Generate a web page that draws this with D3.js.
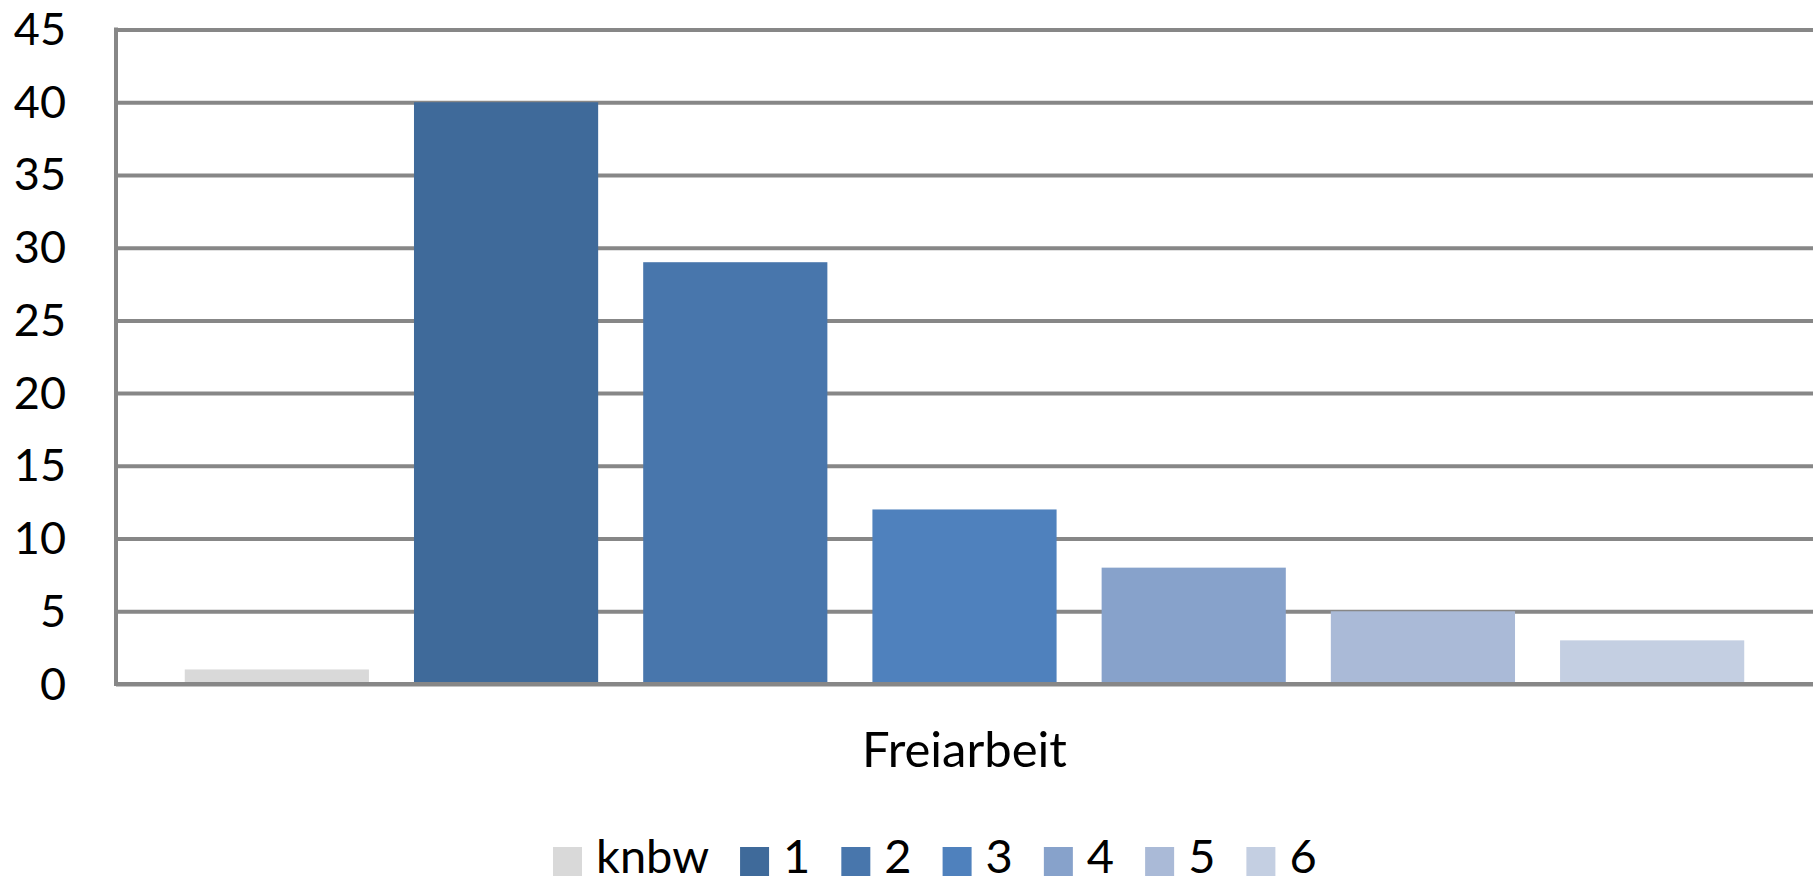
<!DOCTYPE html>
<html>
<head>
<meta charset="utf-8">
<script src="https://cdn.jsdelivr.net/npm/d3@7"></script>
<style>
  html, body { margin: 0; padding: 0; background: #ffffff; }
  svg { display: block; }
  text { font-family: Lato, "Open Sans", sans-serif; fill: #000; }
</style>
</head>
<body>
<svg id="chart" width="1815" height="883"></svg>
<script>
// ---- data ----
const categories = ["knbw", "1", "2", "3", "4", "5", "6"];
const values = [1, 40, 29, 12, 8, 5, 3];
const colors = ["#D9D9D9", "#3F6A9A", "#4876AC", "#4F81BD", "#87A2CB", "#AABAD7", "#C4CFE2"];
const yTicks = [0, 5, 10, 15, 20, 25, 30, 35, 40, 45];
const groupLabel = "Freiarbeit";

// ---- layout ----
const W = 1815, H = 883;
const plot = { left: 116, right: 1813, top: 29.5, bottom: 684 };
const tickFont = 45, labelFont = 49, legendFont = 47;
const gridColor = "#878787";

const svg = d3.select("#chart");

const y = d3.scaleLinear().domain([0, 45]).range([plot.bottom, plot.top]);
const x = d3.scaleBand().domain(categories)
  .range([plot.left, plot.right])
  .paddingInner(0.1965)
  .paddingOuter(0.3);

// gridlines + tick labels via d3 axis
const yAxis = d3.axisLeft(y)
  .tickValues(yTicks)
  .tickSize(-(plot.right - plot.left))
  .tickPadding(50)
  .tickFormat(d3.format("d"));

const gAxis = svg.append("g")
  .attr("transform", `translate(${plot.left},0)`)
  .call(yAxis);
gAxis.select(".domain").remove();
gAxis.selectAll(".tick line")
  .attr("stroke", gridColor)
  .attr("stroke-width", 4);
gAxis.selectAll(".tick text")
  .attr("x", 66 - plot.left)
  .attr("dy", null)
  .attr("y", 15)
  .attr("text-anchor", "end")
  .style("font-family", "Lato, 'Open Sans', sans-serif")
  .style("font-size", tickFont + "px")
  .attr("fill", "#000");

// bars
svg.append("g").selectAll("rect")
  .data(categories)
  .join("rect")
  .attr("x", d => x(d))
  .attr("width", x.bandwidth())
  .attr("y", (d, i) => y(values[i]))
  .attr("height", (d, i) => y(0) - y(values[i]))
  .attr("fill", (d, i) => colors[i]);

// axes lines on top
svg.append("line")
  .attr("x1", plot.left - 2).attr("x2", plot.right)
  .attr("y1", y(0)).attr("y2", y(0))
  .attr("stroke", gridColor).attr("stroke-width", 4);
svg.append("line")
  .attr("x1", plot.left).attr("x2", plot.left)
  .attr("y1", y(45) - 2).attr("y2", y(0) + 2)
  .attr("stroke", gridColor).attr("stroke-width", 4);

// category label
svg.append("text")
  .attr("x", (plot.left + plot.right) / 2)
  .attr("y", 767)
  .attr("text-anchor", "middle")
  .style("font-size", labelFont + "px")
  .text(groupLabel);

// legend
const legend = svg.append("g");
let lx = 553;
const sw = 29, textOff = 43, gap = 31;
categories.forEach((c, i) => {
  legend.append("rect")
    .attr("x", lx).attr("y", 847)
    .attr("width", sw).attr("height", sw)
    .attr("fill", colors[i]);
  const t = legend.append("text")
    .attr("x", lx + textOff)
    .attr("y", 873)
    .style("font-size", legendFont + "px")
    .text(c);
  lx += textOff + t.node().getComputedTextLength() + gap;
});
</script>
</body>
</html>
